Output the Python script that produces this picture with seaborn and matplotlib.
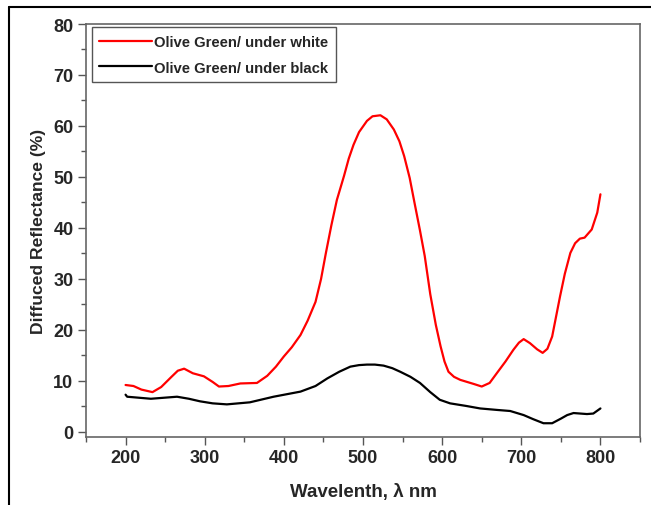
import matplotlib
matplotlib.use('Agg')
import matplotlib.pyplot as plt
import seaborn as sns
from matplotlib.ticker import MultipleLocator
from matplotlib.lines import Line2D

# red curve: sample on white background
wl_white = [200, 210, 220, 234, 245, 258, 266, 274, 285, 299, 310, 318, 330, 345, 366, 379,
            390, 400, 410, 421, 430, 440, 447, 453, 460, 467, 476, 482, 488, 495, 505, 512,
            522, 530, 539, 546, 552, 559, 565, 572, 578, 585, 592, 598, 603, 608, 615, 623,
            640, 650, 660, 669, 680, 690, 697, 703, 711, 720, 727, 733, 739, 749, 755, 762,
            768, 774, 780, 789, 796, 800]
refl_white = [9.2, 9.0, 8.3, 7.8, 8.8, 10.8, 12.0, 12.4, 11.5, 10.9, 9.8, 8.9, 9.0, 9.5, 9.6, 11.0,
              12.8, 14.8, 16.6, 19.0, 21.8, 25.5, 30.0, 35.0, 40.5, 45.5, 50.2, 53.6, 56.3, 58.8, 61.0, 61.9,
              62.1, 61.3, 59.3, 57.0, 54.1, 49.8, 45.0, 39.5, 34.5, 27.0, 21.0, 16.8, 13.8, 11.8, 10.8, 10.2,
              9.4, 8.9, 9.6, 11.5, 13.8, 16.1, 17.5, 18.2, 17.4, 16.2, 15.5, 16.3, 18.7, 26.6, 31.0, 35.1,
              37.0, 37.9, 38.1, 39.7, 43.0, 46.6]

# black curve: sample on black background
wl_black = [200, 202, 232, 265, 280, 294, 310, 328, 357, 387, 421, 440, 455, 470, 484, 495,
            505, 515, 526, 537, 547, 560, 572, 585, 597, 610, 630, 648, 670, 686, 703, 715,
            728, 739, 750, 758, 766, 783, 791, 800]
refl_black = [7.3, 6.9, 6.5, 6.9, 6.5, 6.0, 5.6, 5.4, 5.8, 6.9, 7.9, 9.0, 10.5, 11.8, 12.8, 13.1,
              13.2, 13.2, 13.0, 12.5, 11.8, 10.8, 9.6, 7.8, 6.3, 5.6, 5.1, 4.6, 4.3, 4.1, 3.3, 2.5,
              1.7, 1.7, 2.6, 3.3, 3.7, 3.5, 3.6, 4.6]

labels = ['Olive Green/ under white', 'Olive Green/ under black']

sns.set_style('ticks')
plt.rcParams['font.family'] = ['Liberation Sans', 'DejaVu Sans']
plt.rcParams['font.weight'] = 'bold'

fig = plt.figure(figsize=(6.51, 5.06), dpi=100)
ax = fig.add_axes([86 / 651, 68 / 506, 554 / 651, 413 / 506])

sns.lineplot(x=wl_white, y=refl_white, color='#ff0000', linewidth=1.6, ax=ax, sort=False)
sns.lineplot(x=wl_black, y=refl_black, color='black', linewidth=1.6, ax=ax, sort=False)

ax.set_xlim(150, 850)
ax.set_ylim(-1, 80)
ax.xaxis.set_major_locator(MultipleLocator(100))
ax.xaxis.set_minor_locator(MultipleLocator(50))
ax.yaxis.set_major_locator(MultipleLocator(10))
ax.yaxis.set_minor_locator(MultipleLocator(5))
ax.tick_params(which='major', length=6, width=1, color='#555555', labelsize=13, pad=3)
ax.tick_params(which='minor', length=3.5, width=1, color='#555555')
for lab in ax.get_xticklabels() + ax.get_yticklabels():
    lab.set_fontweight('bold')
for sp in ax.spines.values():
    sp.set_visible(True)
    sp.set_color('#666666')
    sp.set_linewidth(1.2)

ax.set_xlabel('Wavelenth, λ nm', fontsize=13.5, fontweight='bold', labelpad=12)
ax.set_ylabel('Diffuced Reflectance (%)', fontsize=12.6, fontweight='bold', labelpad=5)

handles = [Line2D([], [], color='#ff0000', lw=1.6), Line2D([], [], color='black', lw=1.6)]
leg = ax.legend(handles, labels, loc='upper left', bbox_to_anchor=(0.01, 0.992),
                fancybox=False, framealpha=1, edgecolor='#555555', handlelength=3.6,
                handletextpad=0.1, borderpad=0.5, labelspacing=0.8, borderaxespad=0,
                prop={'size': 10.7, 'weight': 'bold'})
leg.get_frame().set_linewidth(1.0)

# outer frame of the original figure
fig.add_artist(Line2D([9 / 651, 1], [1 - 8 / 506, 1 - 8 / 506], color='black', lw=1.5,
                      transform=fig.transFigure))
fig.add_artist(Line2D([9 / 651, 9 / 651], [0, 1 - 8 / 506], color='black', lw=1.5,
                      transform=fig.transFigure))

plt.savefig('out.png', dpi=100)
